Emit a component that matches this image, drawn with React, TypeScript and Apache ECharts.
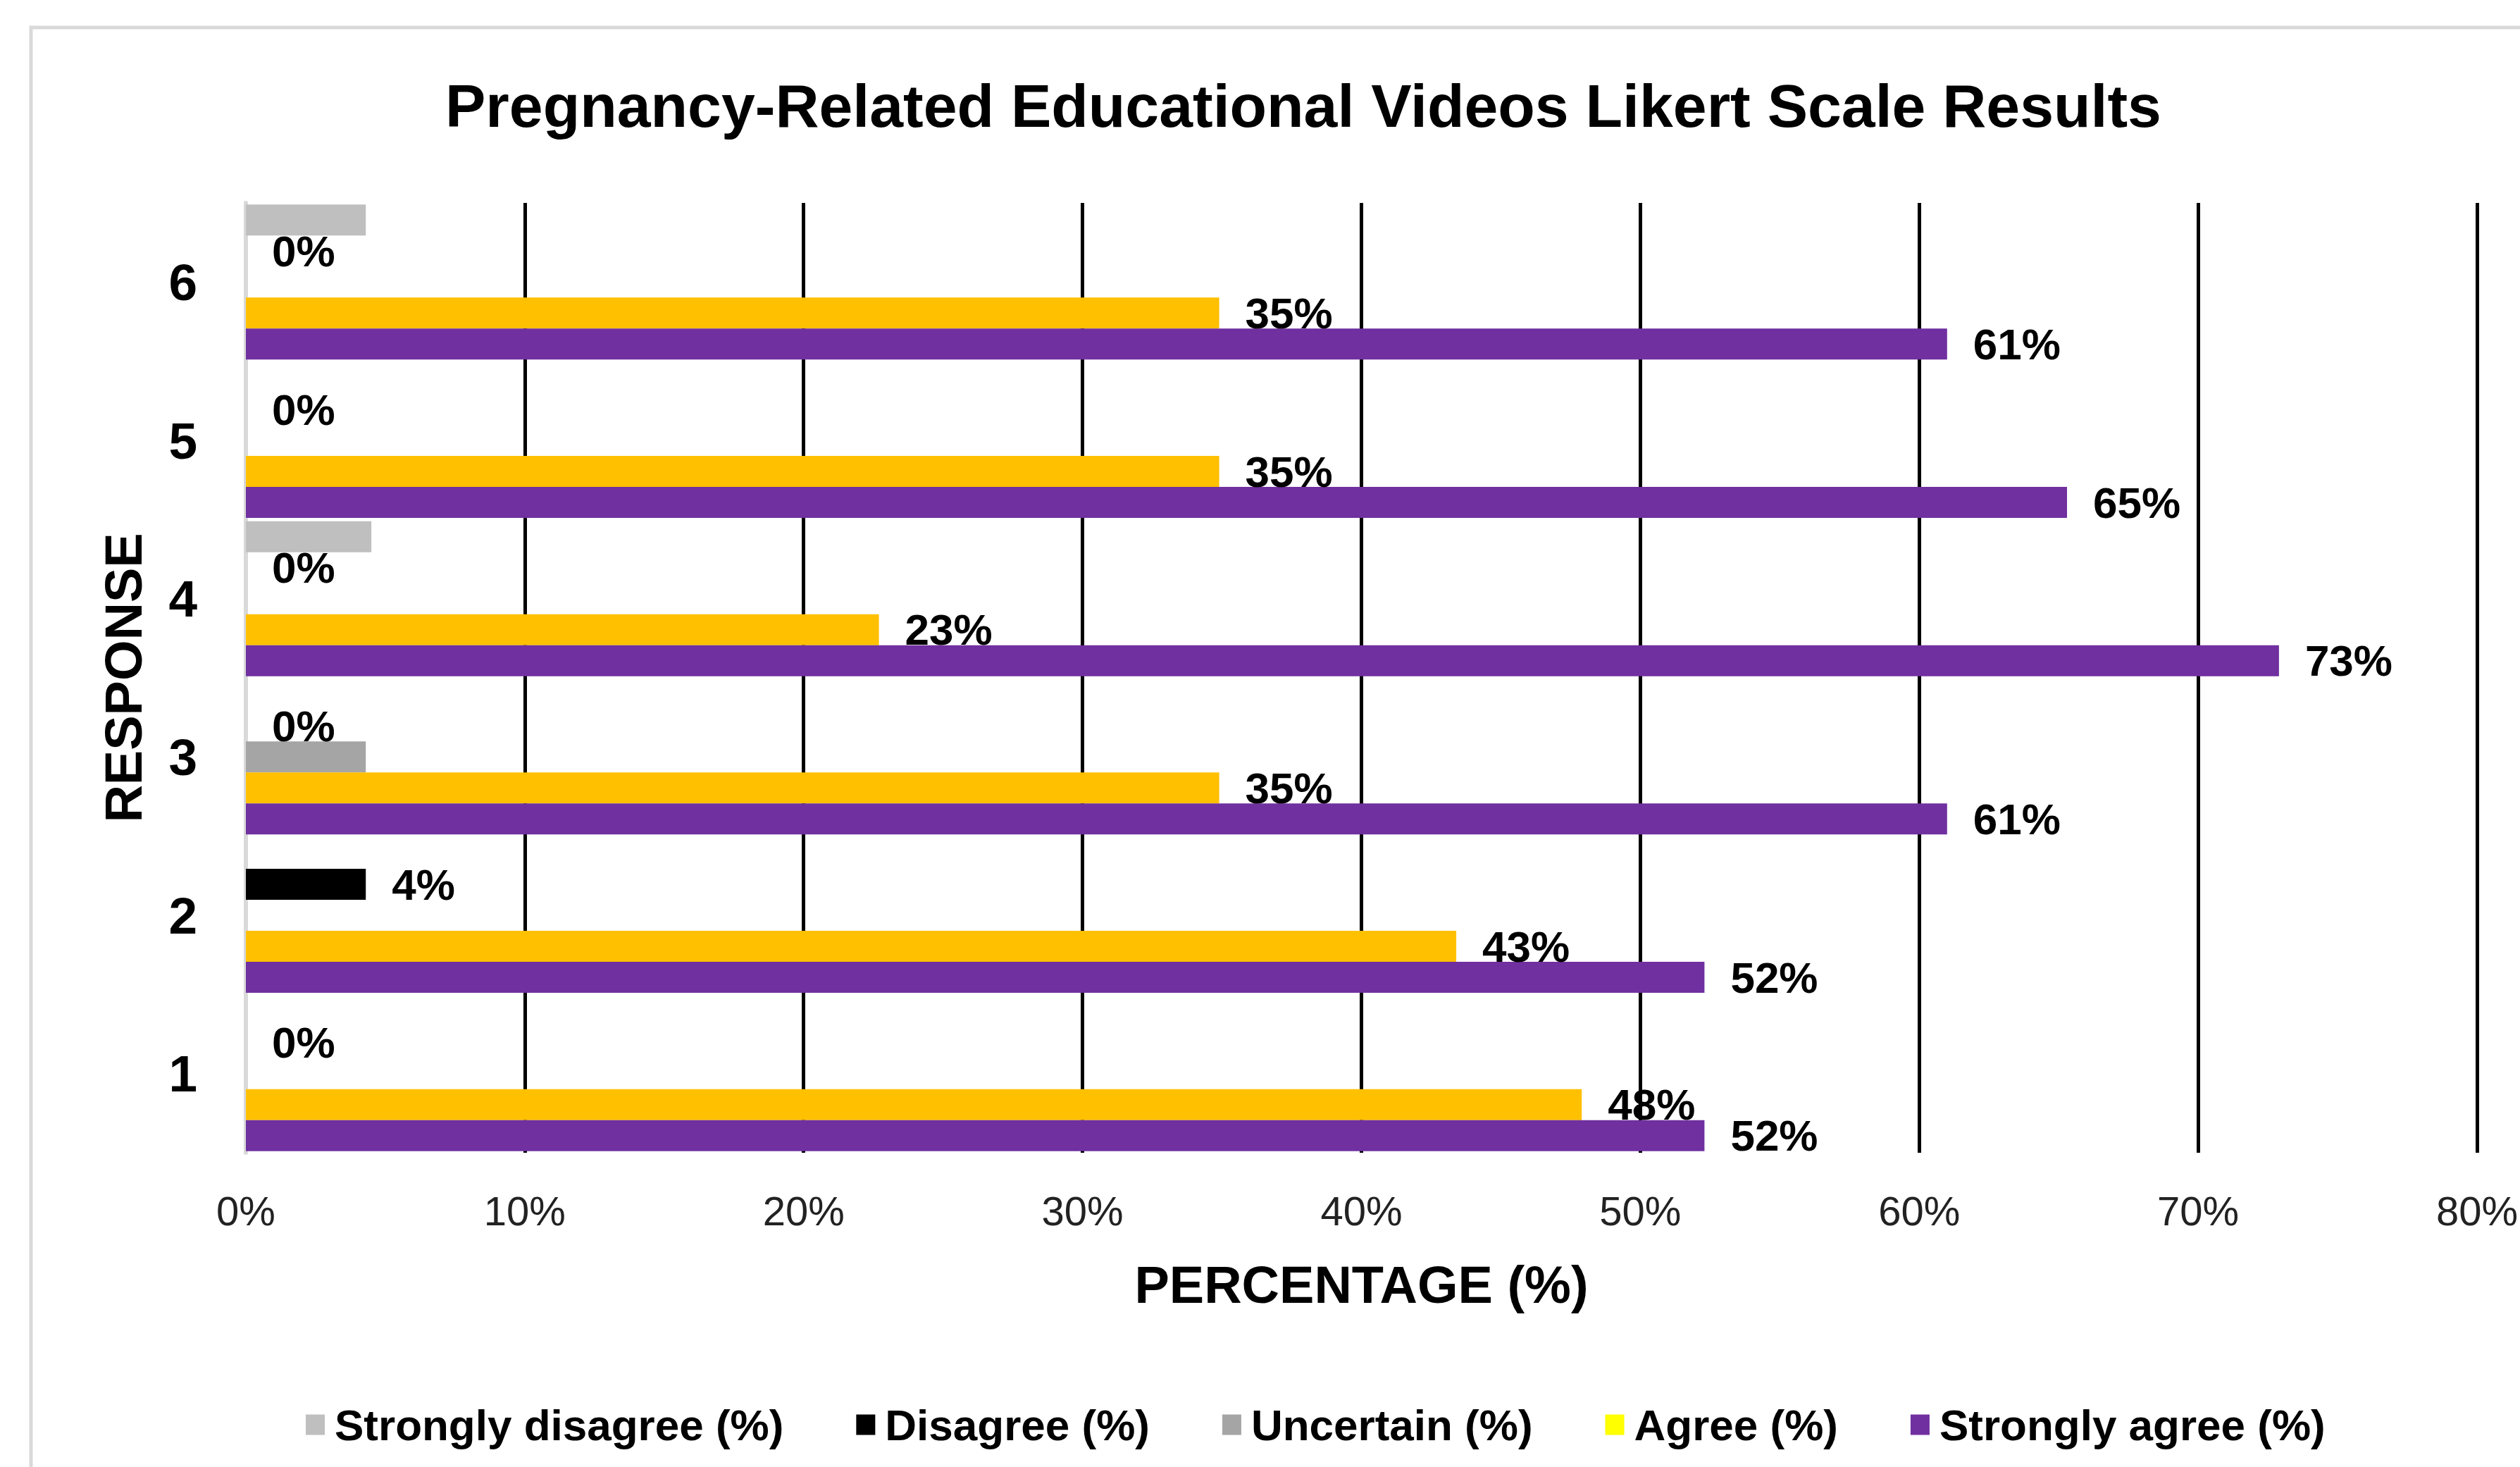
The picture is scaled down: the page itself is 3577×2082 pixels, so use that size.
import React, { useEffect, useRef } from "react";
import * as echarts from "echarts";

const FONT = "'Liberation Sans', Arial, sans-serif";

const TITLE = "Pregnancy-Related Educational Videos Likert Scale Results";
const categories = ["1", "2", "3", "4", "5", "6"];
const seriesNames = [
  "Strongly disagree (%)",
  "Disagree (%)",
  "Uncertain (%)",
  "Agree (%)",
  "Strongly agree (%)",
];
const stronglyDisagree = [0, 0, 0, 4.5, 0, 4.3];
const disagree = [0, 4.3, 0, 0, 0, 0];
const uncertain = [0, 0, 4.3, 0, 0, 0];
const agree = [47.9, 43.4, 34.9, 22.7, 34.9, 34.9];
const stronglyAgree = [52.3, 52.3, 61.0, 72.9, 65.3, 61.0];
const showLabels = [false, true, false, true, true];
const barColors = ["#BFBFBF", "#000000", "#A5A5A5", "#FFC000", "#7030A0"];
const legendColors = ["#BFBFBF", "#000000", "#A5A5A5", "#FFFF00", "#7030A0"];
const xMax = 80;
const xInterval = 10;

export default function App() {
  const ref = useRef<HTMLDivElement>(null);
  useEffect(() => {
    if (!ref.current) return;
    const chart = echarts.init(ref.current, undefined, { renderer: "svg" });
    const values = [stronglyDisagree, disagree, uncertain, agree, stronglyAgree];
    const series = values.map((vals, i) => ({
      name: seriesNames[i],
      type: "bar",
      data: vals,
      barWidth: 44,
      barGap: "0%",
      itemStyle: { color: barColors[i] },
      label: {
        show: showLabels[i],
        position: "right",
        distance: 37,
        color: "#000",
        fontFamily: FONT,
        fontWeight: "bold",
        fontSize: 62,
        formatter: (p: any) => Math.round(p.value) + "%",
      },
    }));
    chart.setOption({
      animation: false,
      backgroundColor: "#fff",
      title: {
        text: TITLE,
        left: 627,
        top: 102,
        textStyle: { fontFamily: FONT, fontWeight: "bold", fontSize: 86, color: "#000" },
      },
      graphic: [
        {
          type: "rect",
          shape: { x: 44, y: 39, width: 4000, height: 3000 },
          style: { fill: "none", stroke: "#D9D9D9", lineWidth: 5 },
          silent: true,
        },
      ],
      legend: {
        left: 429,
        top: 1986,
        itemWidth: 27,
        itemHeight: 29,
        itemGap: 103,
        icon: "rect",
        textStyle: {
          fontFamily: FONT,
          fontWeight: "bold",
          fontSize: 62,
          color: "#000",
          padding: [0, 0, 0, 9],
        },
        data: seriesNames.map((n, i) => ({ name: n, itemStyle: { color: legendColors[i] } })),
      },
      grid: { left: 349, right: 54, top: 288, bottom: 446, containLabel: false },
      xAxis: {
        type: "value",
        min: 0,
        max: xMax,
        interval: xInterval,
        name: "PERCENTAGE (%)",
        nameLocation: "middle",
        nameGap: 150,
        nameTextStyle: { fontFamily: FONT, fontWeight: "bold", fontSize: 74, color: "#000" },
        axisLine: { show: false },
        axisTick: { show: false },
        axisLabel: {
          formatter: (v: number) => v + "%",
          fontFamily: FONT,
          fontSize: 58,
          color: "#222",
          margin: 53,
        },
        splitLine: { show: true, showMinLine: false, lineStyle: { color: "#000", width: 5 } },
      },
      yAxis: {
        type: "category",
        data: categories,
        name: "RESPONSE",
        nameLocation: "middle",
        nameRotate: 90,
        nameGap: 137,
        nameTextStyle: { fontFamily: FONT, fontWeight: "bold", fontSize: 74, color: "#000" },
        axisLine: { show: true, lineStyle: { color: "#D9D9D9", width: 6 } },
        axisTick: { show: false },
        axisLabel: {
          fontFamily: FONT,
          fontWeight: "bold",
          fontSize: 73,
          color: "#000",
          margin: 69,
        },
        splitLine: { show: false },
      },
      series,
    });
    return () => chart.dispose();
  }, []);
  return (
    <div
      ref={ref}
      style={{ position: "fixed", left: 0, top: 0, width: 3577, height: 2082, background: "#fff" }}
    />
  );
}
